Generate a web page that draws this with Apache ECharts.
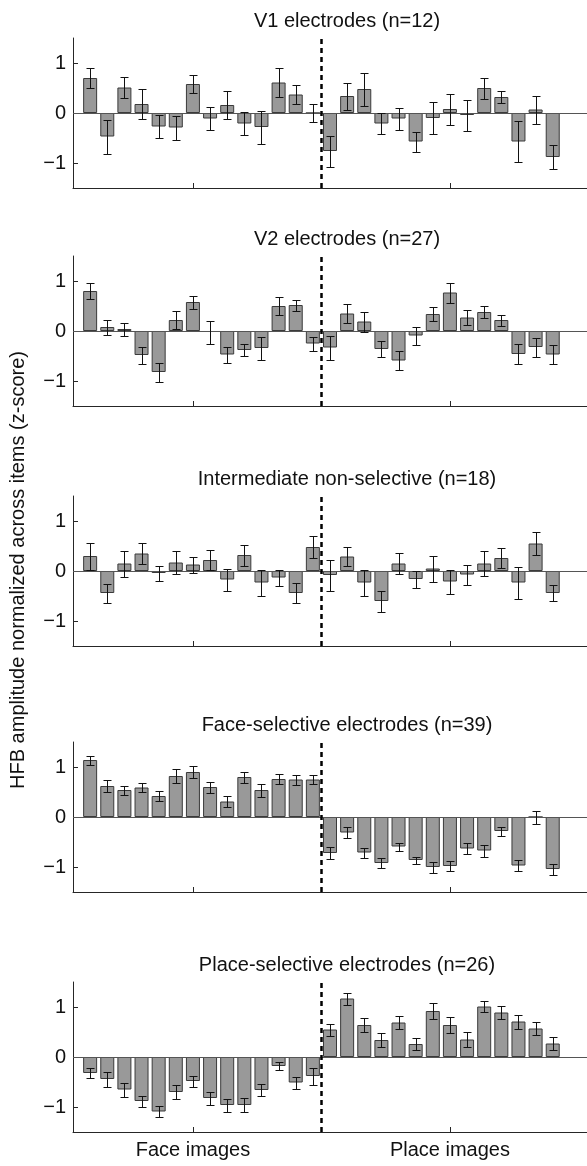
<!DOCTYPE html>
<html><head><meta charset="utf-8">
<script src="https://cdn.jsdelivr.net/npm/echarts@6/dist/echarts.min.js"></script>
<style>html,body{margin:0;padding:0;background:#fff}#c{width:587px;height:1166px}</style>
</head><body><div id="c"></div>
<script>
// ---------- data ----------
const panelTitles = ['V1 electrodes (n=12)', 'V2 electrodes (n=27)', 'Intermediate non-selective (n=18)', 'Face-selective electrodes (n=39)', 'Place-selective electrodes (n=26)'];
const yAxisName = 'HFB amplitude normalized across items (z-score)';
const xTickValues = [7, 22];
const xTickLabels = ['Face images', 'Place images'];
const yTickValues = [-1, 0, 1];
const yTickLabels = ['\u22121', '0', '1'];
const dividerX = 14.5;
const itemPositions = [1,2,3,4,5,6,7,8,9,10,11,12,13,14,15,16,17,18,19,20,21,22,23,24,25,26,27,28];

const v1Mean = [0.70,-0.47,0.51,0.18,-0.27,-0.29,0.58,-0.11,0.16,-0.21,-0.28,0.61,0.37,0.00, -0.76,0.34,0.48,-0.21,-0.11,-0.57,-0.10,0.08,-0.04,0.50,0.32,-0.57,0.07,-0.88];
const v1Err  = [0.20,0.34,0.21,0.30,0.23,0.24,0.18,0.23,0.28,0.23,0.33,0.29,0.19,0.18, 0.31,0.27,0.33,0.21,0.22,0.20,0.32,0.31,0.31,0.21,0.12,0.41,0.28,0.24];

const v2Mean = [0.80,0.08,0.04,-0.48,-0.82,0.22,0.58,-0.02,-0.47,-0.38,-0.34,0.50,0.52,-0.25, -0.33,0.35,0.19,-0.36,-0.59,-0.09,0.34,0.77,0.27,0.38,0.22,-0.46,-0.32,-0.47];
const v2Err  = [0.16,0.15,0.13,0.17,0.19,0.18,0.13,0.23,0.16,0.12,0.23,0.18,0.11,0.14, 0.24,0.19,0.20,0.16,0.19,0.18,0.14,0.20,0.15,0.12,0.11,0.20,0.19,0.19];

const imMean = [0.30,-0.44,0.15,0.35,-0.04,0.17,0.13,0.22,-0.17,0.32,-0.23,-0.13,-0.44,0.48, -0.08,0.29,-0.23,-0.60,0.15,-0.16,0.05,-0.21,-0.07,0.15,0.26,-0.23,0.55,-0.44];
const imErr  = [0.27,0.19,0.26,0.21,0.15,0.23,0.16,0.20,0.22,0.21,0.26,0.16,0.20,0.22, 0.31,0.19,0.26,0.21,0.21,0.17,0.26,0.24,0.20,0.25,0.20,0.32,0.23,0.16];

const faceMean = [1.14,0.62,0.54,0.59,0.42,0.82,0.90,0.60,0.31,0.80,0.54,0.76,0.75,0.75, -0.72,-0.31,-0.71,-0.92,-0.59,-0.86,-1.00,-0.98,-0.63,-0.67,-0.28,-0.97,0.00,-1.04];
const faceErr  = [0.09,0.12,0.09,0.09,0.10,0.14,0.12,0.11,0.11,0.11,0.13,0.10,0.10,0.09, 0.12,0.11,0.10,0.10,0.08,0.07,0.11,0.10,0.11,0.12,0.09,0.11,0.13,0.11];

const placeMean = [-0.32,-0.44,-0.65,-0.88,-1.09,-0.70,-0.48,-0.82,-0.96,-0.96,-0.66,-0.18,-0.51,-0.38, 0.55,1.17,0.64,0.34,0.69,0.26,0.92,0.64,0.35,1.01,0.89,0.71,0.57,0.27];
const placeErr  = [0.10,0.15,0.14,0.11,0.11,0.14,0.11,0.13,0.13,0.14,0.12,0.08,0.12,0.17, 0.12,0.12,0.14,0.14,0.13,0.12,0.16,0.16,0.15,0.11,0.13,0.14,0.13,0.13];

const panelMeans = [v1Mean, v2Mean, imMean, faceMean, placeMean];
const panelErrs = [v1Err, v2Err, imErr, faceErr, placeErr];

// ---------- layout ----------
const gridTops = [38, 256, 496, 742, 982];
const gridH = 150, gridLeft = 73, gridW = 517;
const FONT = '"Liberation Sans", Arial, Helvetica, sans-serif';
const FS = 20;
const AX = '#262626';

function renderErr(params, api) {
  const x = api.value(0), lo = api.value(1), hi = api.value(2);
  const pLo = api.coord([x, lo]), pHi = api.coord([x, hi]);
  const cx = Math.round(pLo[0]) + 0.5;
  const yLo = Math.round(pLo[1]) + 0.5, yHi = Math.round(pHi[1]) + 0.5;
  const hw = 4;
  const style = {stroke: '#111', lineWidth: 1};
  return {type: 'group', children: [
    {type: 'line', shape: {x1: cx, y1: yLo, x2: cx, y2: yHi}, style: style},
    {type: 'line', shape: {x1: cx - hw, y1: yLo, x2: cx + hw, y2: yLo}, style: style},
    {type: 'line', shape: {x1: cx - hw, y1: yHi, x2: cx + hw, y2: yHi}, style: style}
  ]};
}

const grids = [], xAxes = [], yAxes = [], series = [], titles = [];
panelTitles.forEach((t, i) => {
  const last = i === panelTitles.length - 1;
  grids.push({left: gridLeft, top: gridTops[i], width: gridW, height: gridH, containLabel: false});
  titles.push({text: t, left: 342, top: gridTops[i] - 32, textAlign: 'center',
    textStyle: {fontFamily: FONT, fontSize: FS, fontWeight: 'normal', color: '#111'}});
  xAxes.push({type: 'value', gridIndex: i, min: 0, max: 30,
    axisLine: {show: true, onZero: false, lineStyle: {color: AX, width: 1}},
    axisTick: {show: true, inside: true, length: 5, customValues: xTickValues, lineStyle: {color: AX}},
    axisLabel: {show: last, customValues: xTickValues, margin: 8,
      formatter: v => xTickLabels[xTickValues.indexOf(v)] || '',
      fontFamily: FONT, fontSize: FS, color: '#111'},
    splitLine: {show: false}});
  yAxes.push({type: 'value', gridIndex: i, min: -1.5, max: 1.5,
    axisLine: {show: true, onZero: false, lineStyle: {color: AX, width: 1}},
    axisTick: {show: true, inside: true, length: 5, customValues: yTickValues, lineStyle: {color: AX}},
    axisLabel: {show: true, customValues: yTickValues, margin: 7,
      formatter: v => yTickLabels[yTickValues.indexOf(v)],
      fontFamily: FONT, fontSize: FS, color: '#111'},
    splitLine: {show: false}});
  const means = panelMeans[i], errs = panelErrs[i];
  series.push({type: 'bar', xAxisIndex: i, yAxisIndex: i, barWidth: 14,
    data: itemPositions.map((p, k) => [p, means[k]]),
    itemStyle: {color: '#999999', borderColor: '#3a3a3a', borderWidth: 1},
    markLine: {silent: true, symbol: 'none', label: {show: false}, animation: false,
      data: [
        {yAxis: 0, lineStyle: {color: '#555', width: 1, type: 'solid'}},
        {xAxis: dividerX, lineStyle: {color: '#000', width: 2.5, type: [5, 4]}}
      ]}
  });
  series.push({type: 'custom', xAxisIndex: i, yAxisIndex: i, renderItem: renderErr, z: 5,
    encode: {x: 0, y: [1, 2]},
    data: itemPositions.map((p, k) => [p, means[k] - errs[k], means[k] + errs[k]])});
});

const chart = echarts.init(document.getElementById('c'), null, {renderer: 'canvas'});
chart.setOption({
  animation: false,
  backgroundColor: '#fff',
  title: titles,
  grid: grids, xAxis: xAxes, yAxis: yAxes, series: series,
  graphic: [{type: 'text', x: 18, y: 570, rotation: Math.PI / 2,
    style: {text: yAxisName, fontFamily: FONT, fontSize: FS, fill: '#111', align: 'center', verticalAlign: 'middle'}}]
});
</script></body></html>
